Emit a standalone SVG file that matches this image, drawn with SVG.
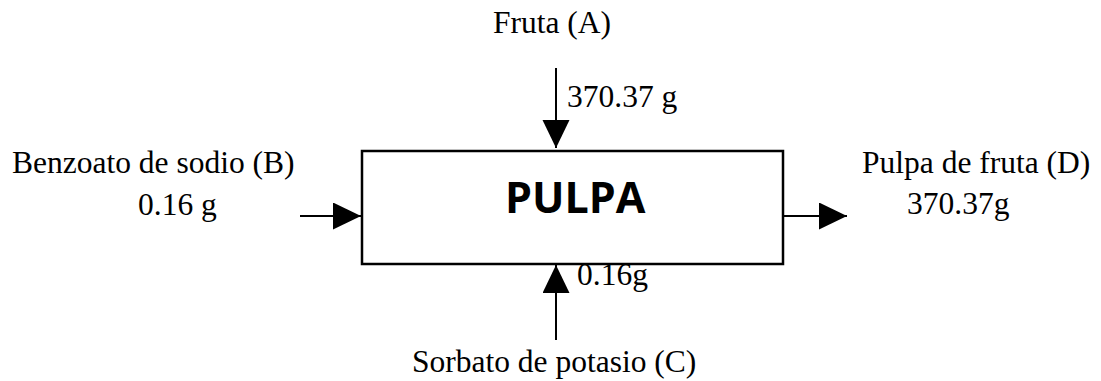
<svg xmlns="http://www.w3.org/2000/svg" width="1101" height="381" viewBox="0 0 1101 381">
<style>
.t{font-family:"Liberation Serif","Times New Roman",serif;font-size:31.5px;fill:#000}
.b{font-family:"Open Sans","Liberation Sans",sans-serif;font-size:43px;font-weight:bold;fill:#000}
.c{stroke:#000;stroke-width:2;fill:none;marker-end:url(#ah)}
</style>
<defs>
<marker id="ah" markerUnits="userSpaceOnUse" markerWidth="28" markerHeight="28" refX="28" refY="13.5" orient="auto">
<path d="M0,0 L28,13.5 L0,27 Z" fill="#000"/>
</marker>
</defs>
<rect width="1101" height="381" fill="#fff"/>
<g id="connectors">
<line class="c" x1="556" y1="68" x2="556" y2="148"/>
<line class="c" x1="300" y1="216" x2="361" y2="216"/>
<line class="c" x1="784" y1="216" x2="847" y2="216"/>
<line class="c" x1="556" y1="340" x2="556" y2="265"/>
</g>
<g id="pulpa">
<rect x="362" y="151" width="421" height="113" fill="none" stroke="#000" stroke-width="2.5"/>
<text class="b" x="505" y="213">PULPA</text>
</g>
<g id="fruta">
<text class="t" x="493" y="33">Fruta (A)</text>
<text class="t" x="567" y="107">370.37 g</text>
</g>
<g id="benzoato">
<text class="t" x="12" y="173">Benzoato de sodio (B)</text>
<text class="t" x="138" y="215">0.16 g</text>
</g>
<g id="pulpa-fruta">
<text class="t" x="862" y="173">Pulpa de fruta (D)</text>
<text class="t" x="907" y="214">370.37g</text>
</g>
<g id="sorbato">
<text class="t" x="577" y="285">0.16g</text>
<text class="t" x="412" y="372">Sorbato de potasio (C)</text>
</g>
</svg>
